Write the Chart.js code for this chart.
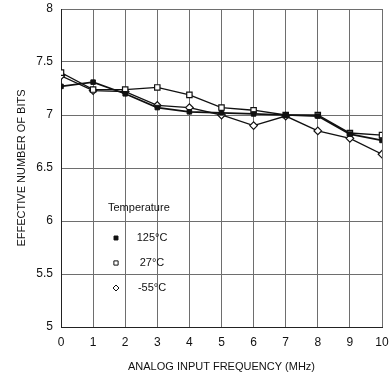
<!DOCTYPE html>
<html>
<head>
<meta charset="utf-8">
<script src="https://cdn.jsdelivr.net/npm/chart.js@4/dist/chart.umd.min.js"></script>
<style>
html,body{margin:0;padding:0;background:#fff;}
#wrap{position:relative;width:389px;height:379px;}
</style>
</head>
<body>
<div id="wrap"><canvas id="c" width="389" height="379"></canvas></div>
<script>
const frequencies = [0,1,2,3,4,5,6,7,8,9,10];
const enob125 = [7.27,7.31,7.20,7.07,7.03,7.02,7.01,7.00,6.99,6.82,6.76];
const enob27  = [7.40,7.24,7.24,7.26,7.19,7.07,7.045,7.00,7.00,6.83,6.81];
const enobM55 = [7.37,7.23,7.22,7.09,7.07,7.00,6.90,6.99,6.85,6.78,6.63];
const seriesLabels = ['125°C','27°C','-55°C'];
const yTicks = [5,5.5,6,6.5,7,7.5,8];
const xTicks = [0,1,2,3,4,5,6,7,8,9,10];

const FONT = "'Liberation Sans', Arial, sans-serif";

function pts(arr){ return frequencies.map((f,i)=>({x:f,y:arr[i]})); }

const datasets = [
  {label:seriesLabels[0], data:pts(enob125), borderColor:'#111', borderWidth:1.7,
   pointStyle:'rect', pointRadius:3.2, backgroundColor:'#111', pointBackgroundColor:'#111', pointBorderColor:'#111', pointBorderWidth:1},
  {label:seriesLabels[1], data:pts(enob27), borderColor:'#111', borderWidth:1.3,
   pointStyle:'rect', pointRadius:3.8, backgroundColor:'#fff', pointBackgroundColor:'#fff', pointBorderColor:'#111', pointBorderWidth:1.2},
  {label:seriesLabels[2], data:pts(enobM55), borderColor:'#111', borderWidth:1.3,
   pointStyle:'rectRot', pointRadius:3.8, backgroundColor:'#fff', pointBackgroundColor:'#fff', pointBorderColor:'#111', pointBorderWidth:1.2}
];

const legendPlugin = {
  id:'tempLegend',
  afterDraw(chart){
    const ctx = chart.ctx;
    const a = chart.chartArea;
    ctx.save();
    ctx.fillStyle = '#111';
    ctx.font = "11px " + FONT;
    ctx.textBaseline = 'middle';
    ctx.textAlign = 'left';
    ctx.fillText('Temperature', a.left + 47, a.top + 199);
    const rows = [a.top + 229, a.top + 254, a.top + 279];
    chart.data.datasets.forEach((ds,i)=>{
      const y = rows[i];
      const mx = a.left + 55;
      ctx.fillStyle = ds.pointBackgroundColor;
      ctx.strokeStyle = ds.pointBorderColor;
      ctx.lineWidth = 1;
      Chart.helpers.drawPoint(ctx, {pointStyle: ds.pointStyle, radius: i===0?2.8:3, borderWidth:1}, mx, y);
      ctx.fillStyle = '#111';
      ctx.textAlign = 'center';
      ctx.fillText(ds.label, a.left + 91, y);
    });
    ctx.restore();
  }
};

new Chart(document.getElementById('c'), {
  type:'line',
  data:{datasets},
  options:{
    responsive:false,
    animation:false,
    devicePixelRatio:1,
    layout:{padding:{top:9,right:7,left:0,bottom:0}},
    plugins:{legend:{display:false}, tooltip:{enabled:false}},
    elements:{line:{tension:0}},
    scales:{
      x:{
        type:'linear', min:0, max:10,
        afterBuildTicks(s){ s.ticks = xTicks.map(v=>({value:v})); },
        afterFit(s){ s.height = 52; s.paddingLeft = 0; s.paddingRight = 0; },
        grid:{color:'#6e6e6e', lineWidth:1, drawTicks:false},
        border:{color:'#222', width:1},
        ticks:{color:'#111', font:{family:FONT, size:12}, padding:8, maxRotation:0, autoSkip:false, callback:v=>String(v)},
        title:{display:true, text:'ANALOG INPUT FREQUENCY (MHz)', color:'#111', font:{family:FONT, size:11}, padding:{top:2,bottom:5}}
      },
      y:{
        type:'linear', min:5, max:8,
        afterBuildTicks(s){ s.ticks = yTicks.map(v=>({value:v})); },
        afterFit(s){ s.width = 61; s.paddingTop = 0; s.paddingBottom = 0; },
        grid:{color:'#6e6e6e', lineWidth:1, drawTicks:false},
        border:{color:'#222', width:1},
        ticks:{color:'#111', font:{family:FONT, size:12}, padding:8, callback:v=>String(v)},
        title:{display:true, text:'EFFECTIVE NUMBER OF BITS', color:'#111', font:{family:FONT, size:11}, padding:{top:15,bottom:0}}
      }
    }
  },
  plugins:[legendPlugin]
});
</script>
</body>
</html>
